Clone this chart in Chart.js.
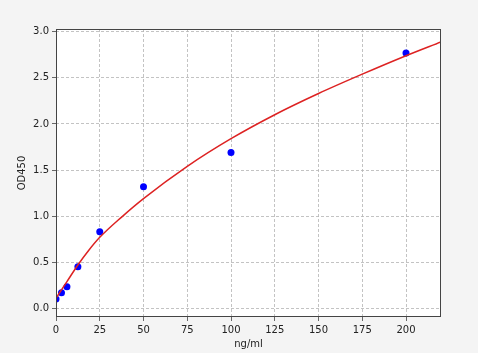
<!DOCTYPE html>
<html>
<head>
<meta charset="utf-8">
<script src="https://cdn.jsdelivr.net/npm/chart.js@4.4.1/dist/chart.umd.min.js"></script>
<style>
  html, body { margin: 0; padding: 0; background: #f4f4f4; }
  #wrap { width: 478px; height: 353px; }
</style>
</head>
<body>
<div id="wrap"><canvas id="curveChart" width="478" height="353"></canvas></div>
<script>
// standard points (ng/ml, OD450)
const concentrations = [0, 3.125, 6.25, 12.5, 25, 50, 100, 200]
const odValues = [0.10, 0.17, 0.235, 0.45, 0.83, 1.32, 1.69, 2.77]

// fitted curve
const curveX = [0, 3.125, 6.25, 12.5, 18.75, 25, 37.5, 50, 75, 100, 125, 150, 175, 200, 220]
const curveY = [0.11, 0.20, 0.29, 0.47, 0.63, 0.77, 0.99, 1.19, 1.54, 1.84, 2.10, 2.33, 2.54, 2.74, 2.89]

const xTicks = [0, 25, 50, 75, 100, 125, 150, 175, 200]
const yTicks = [0, 0.5, 1.0, 1.5, 2.0, 2.5, 3.0]

const font = { family: "DejaVu Sans", size: 10 }

// fondo blanco y marco del area de trazado
const frame = {
  id: "frame",
  beforeDraw(chart) {
    const a = chart.chartArea
    const c = chart.ctx
    c.save()
    c.fillStyle = "#ffffff"
    c.fillRect(a.left, a.top, a.right - a.left, a.bottom - a.top)
    c.restore()
  },
  afterDraw(chart) {
    const a = chart.chartArea
    const c = chart.ctx
    c.save()
    c.strokeStyle = "#444"
    c.lineWidth = 1
    c.strokeRect(a.left + 0.5, a.top + 0.5, a.right - a.left - 1, a.bottom - a.top - 1)
    c.restore()
  },
}

const gridStyle = {
  color: "#b4b4b4",
  lineWidth: 0.8,
  tickColor: "#444",
  tickLength: 4,
  tickBorderDash: [],
}

new Chart(document.getElementById("curveChart"), {
  type: "scatter",
  data: {
    datasets: [
      {
        data: curveX.map((x, i) => ({ x: x, y: curveY[i] })),
        showLine: true,
        borderColor: "#dd2222",
        borderWidth: 1.5,
        pointRadius: 0,
        cubicInterpolationMode: "monotone",
      },
      {
        data: concentrations.map((x, i) => ({ x: x, y: odValues[i] })),
        backgroundColor: "#0000ff",
        borderColor: "#0000ff",
        pointRadius: 3.5,
        borderWidth: 0,
      },
    ],
  },
  options: {
    responsive: false,
    animation: false,
    layout: { padding: { top: 29, right: 37, left: 0, bottom: 0 } },
    plugins: { legend: { display: false }, tooltip: { enabled: false } },
    scales: {
      x: {
        type: "linear",
        min: 0,
        max: 220,
        afterBuildTicks: (axis) => { axis.ticks = xTicks.map((v) => ({ value: v })) },
        afterFit: (axis) => { axis.height = 36 },
        grid: gridStyle,
        border: { display: false, dash: [3, 2] },
        ticks: { color: "#222", font: font, padding: 3, maxRotation: 0, callback: (v) => String(v) },
        title: { display: true, text: "ng/ml", color: "#222", font: font, padding: { top: 0, bottom: 3 } },
      },
      y: {
        type: "linear",
        min: -0.094,
        max: 3.03,
        afterBuildTicks: (axis) => { axis.ticks = yTicks.map((v) => ({ value: v })) },
        afterFit: (axis) => { axis.width = 56 },
        grid: gridStyle,
        border: { display: false, dash: [3, 2] },
        ticks: { color: "#222", font: font, padding: 3, callback: (v) => Number(v).toFixed(1) },
        title: { display: true, text: "OD450", color: "#222", font: font, padding: { top: 16, bottom: 0 } },
      },
    },
  },
  plugins: [frame],
})
</script>
</body>
</html>
